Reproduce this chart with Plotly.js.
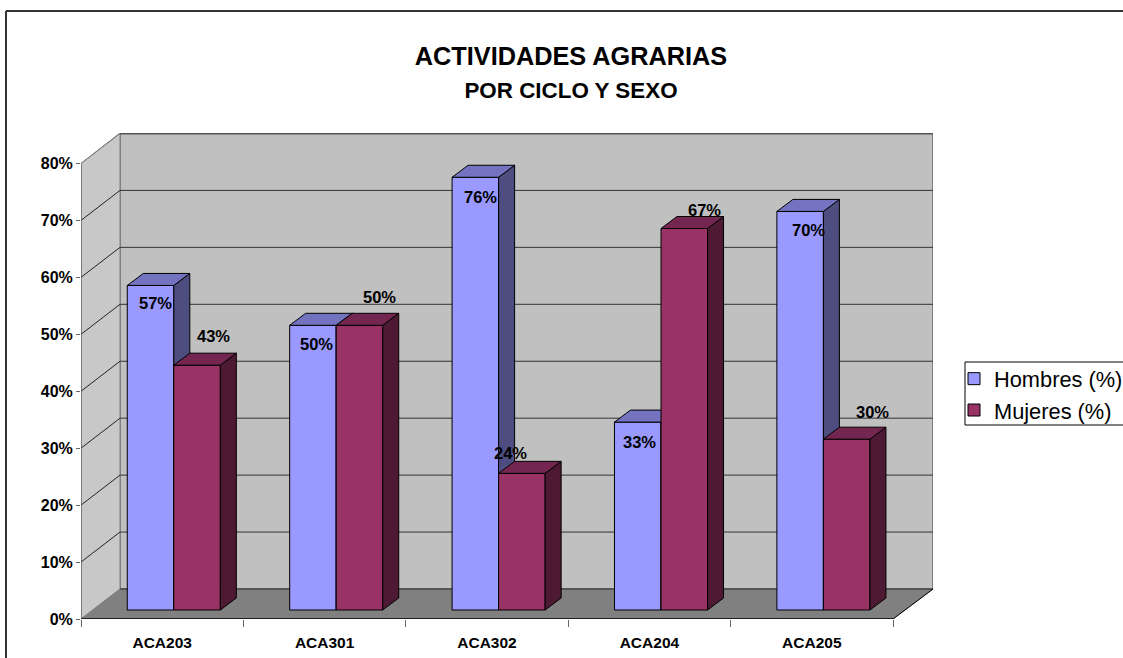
<!DOCTYPE html>
<html>
<head>
<meta charset="utf-8">
<script src="https://cdn.plot.ly/plotly-3.0.1.min.js"></script>
<style>html,body{margin:0;padding:0;background:#fff;overflow:hidden}</style>
</head>
<body>
<div id="chart" style="width:1123px;height:658px"></div>
<script>
const categories = ['ACA203', 'ACA301', 'ACA302', 'ACA204', 'ACA205'];
const hombres = [57, 50, 76, 33, 70];
const mujeres = [43, 50, 24, 67, 30];
const yTicks = [0, 10, 20, 30, 40, 50, 60, 70, 80];

// Label nudges (px) relative to the top of each bar
const hombresShiftX = [5, 4, 5, 2, 8];
const hombresShiftY = [-18, -19, -20, -20, -19];
const mujeresShiftX = [16, 20, -11, 20, 26];
const mujeresShiftY = [29, 28, 20, 19, 27];

// Geometry of the pseudo-3D box
const W = 1123, H = 658;
const L = 81, B = 619, T = 133, R = 933;
const pxCat = 162.4, pxPct = 5.694;
const xMax = (R - L) / pxCat, yMax = (B - T) / pxPct;
const wallDx = 39 / pxCat, wallDy = 30 / pxPct;
const barDx = 16 / pxCat, barDy = 12 / pxPct;
const barBase = 9 / pxPct;
const barW = 0.2865, barLeft = 0.285;
const nCat = categories.length;
const pX = v => (v - L) / (R - L);
const pY = v => (B - v) / (B - T);

const FONT = 'Liberation Sans, Arial, sans-serif';
const C = {h: '#9999FF', hs: '#4D4D80', ht: '#7373BF', m: '#993366', ms: '#4D1933', mt: '#732650'};

function polyLine(pts) { return 'M' + pts.map(p => p.join(',')).join('L') + 'Z'; }

function boxTraces(values, offset, colSide, colTop, xa, ya, group) {
  const sx = [], sy = [], tx = [], ty = [];
  values.forEach((v, i) => {
    const xl = i + barLeft + offset, xr = xl + barW, top = v + barBase;
    sx.push(xr, xr + barDx, xr + barDx, xr, xr, null);
    sy.push(barBase, barBase + barDy, top + barDy, top, barBase, null);
    tx.push(xl, xl + barDx, xr + barDx, xr, xl, null);
    ty.push(top, top + barDy, top + barDy, top, top, null);
  });
  const common = {type: 'scatter', mode: 'lines', fill: 'toself', xaxis: xa, yaxis: ya,
    showlegend: false, hoverinfo: 'skip', legendgroup: group, line: {color: '#000', width: 1}};
  return [
    Object.assign({x: sx, y: sy, fillcolor: colSide}, common),
    Object.assign({x: tx, y: ty, fillcolor: colTop}, common)
  ];
}

function barTrace(name, values, offset, color, xa, ya, group) {
  return {
    type: 'bar', name: name, legendgroup: group, xaxis: xa, yaxis: ya,
    x: values.map((_, i) => i + barLeft + offset + barW / 2),
    y: values, base: values.map(() => barBase), width: barW,
    marker: {color: color, line: {color: '#000', width: 1}},
    customdata: categories, hovertemplate: '%{customdata}: %{y}%<extra>' + name + '</extra>'
  };
}

const traces = [
  barTrace('Hombres (%)', hombres, 0, C.h, 'x', 'y', 'h'),
  ...boxTraces(hombres, 0, C.hs, C.ht, 'x', 'y', 'h'),
  barTrace('Mujeres (%)', mujeres, barW, C.m, 'x2', 'y2', 'm'),
  ...boxTraces(mujeres, barW, C.ms, C.mt, 'x2', 'y2', 'm')
];

// Walls, floor and gridlines
const shapes = [];
shapes.push({type: 'path', layer: 'below', xref: 'x', yref: 'y',
  path: polyLine([[wallDx, wallDy], [xMax, wallDy], [xMax, yMax], [wallDx, yMax]]),
  fillcolor: '#C0C0C0', line: {color: '#808080', width: 2}});
shapes.push({type: 'path', layer: 'below', xref: 'x', yref: 'y',
  path: polyLine([[0, 0], [wallDx, wallDy], [wallDx, yMax], [0, 80]]),
  fillcolor: '#C8C8C8', line: {color: '#808080', width: 1}});
shapes.push({type: 'path', layer: 'below', xref: 'x', yref: 'y',
  path: polyLine([[0, 0], [nCat, 0], [xMax, wallDy], [wallDx, wallDy]]),
  fillcolor: '#808080', line: {color: '#808080', width: 1}});
yTicks.slice(1).forEach(t => {
  shapes.push({type: 'line', layer: 'below', xref: 'x', yref: 'y', x0: wallDx, x1: xMax, y0: t + wallDy, y1: t + wallDy,
    line: {color: t === 80 ? '#555' : '#333', width: t === 80 ? 2 : 1}});
  shapes.push({type: 'line', layer: 'below', xref: 'x', yref: 'y', x0: 0, x1: wallDx, y0: t, y1: t + wallDy,
    line: {color: t === 80 ? '#777' : '#222', width: 1}});
});
// Floor edges and left axis line
shapes.push({type: 'line', layer: 'below', xref: 'x', yref: 'y', x0: wallDx, x1: xMax, y0: wallDy, y1: wallDy, line: {color: '#555', width: 2}});
shapes.push({type: 'line', layer: 'below', xref: 'x', yref: 'y', x0: 0, x1: nCat, y0: 0, y1: 0, line: {color: '#000', width: 1.5}});
shapes.push({type: 'line', layer: 'below', xref: 'x', yref: 'y', x0: nCat, x1: xMax, y0: 0, y1: wallDy, line: {color: '#000', width: 1}});
shapes.push({type: 'line', layer: 'below', xref: 'x', yref: 'y', x0: 0, x1: 0, y0: 0, y1: 80, line: {color: '#555', width: 1}});
// Outer chart frame
shapes.push({type: 'line', xref: 'paper', yref: 'paper', x0: pX(6), x1: pX(W), y0: pY(11), y1: pY(11), line: {color: '#333', width: 2}});
shapes.push({type: 'line', xref: 'paper', yref: 'paper', x0: pX(6), x1: pX(6), y0: pY(11), y1: pY(H), line: {color: '#333', width: 2}});
// Legend frame
shapes.push({type: 'rect', layer: 'below', xref: 'paper', yref: 'paper', x0: pX(965), x1: pX(W + 5), y0: pY(362), y1: pY(425),
  fillcolor: '#fff', line: {color: '#000', width: 1}});

function labels(values, offset, dx, dy) {
  return values.map((v, i) => ({
    xref: 'x', yref: 'y', x: i + barLeft + offset + barW / 2, y: v + barBase,
    xshift: dx[i], yshift: dy[i], text: '<b>' + v + '%</b>', showarrow: false,
    xanchor: 'center', yanchor: 'middle',
    font: {family: FONT, size: 16.5, color: '#000'}
  }));
}

const layout = {
  width: W, height: H, autosize: false,
  margin: {l: L, r: W - R, t: T, b: H - B, autoexpand: false},
  paper_bgcolor: '#fff', plot_bgcolor: 'rgba(0,0,0,0)',
  barmode: 'overlay',
  font: {family: FONT, color: '#000'},
  title: {
    text: '<b>ACTIVIDADES AGRARIAS</b><br><b><span style="font-size:22.4px">POR CICLO Y SEXO</span></b>',
    font: {family: FONT, size: 25.3, color: '#000'},
    x: 571 / W, xanchor: 'center', xref: 'container',
    y: 1 - 65 / H, yanchor: 'top', yref: 'container'
  },
  xaxis: {
    range: [0, xMax], showgrid: false, zeroline: false, showline: false, fixedrange: true,
    tickmode: 'array', tickvals: categories.map((_, i) => i + 0.5), ticktext: categories,
    ticks: '', ticklabelstandoff: 12,
    tickfont: {family: FONT, size: 15.5, weight: 'bold', color: '#000'},
    minor: {tick0: 0, dtick: 1, ticks: 'outside', ticklen: 7, tickwidth: 1, tickcolor: '#666', showgrid: false}
  },
  yaxis: {
    range: [0, yMax], showgrid: false, zeroline: false, showline: false, fixedrange: true,
    tickmode: 'array', tickvals: yTicks, ticktext: yTicks.map(t => t + '%'),
    ticks: 'outside', ticklen: 4, tickwidth: 1, tickcolor: '#666',
    tickfont: {family: FONT, size: 16, weight: 'bold', color: '#000'}
  },
  xaxis2: {overlaying: 'x', anchor: 'y2', range: [0, xMax], visible: false, fixedrange: true},
  yaxis2: {overlaying: 'y', anchor: 'x2', range: [0, yMax], visible: false, fixedrange: true},
  legend: {
    x: pX(954), xanchor: 'left', y: pY(358), yanchor: 'top',
    bgcolor: 'rgba(0,0,0,0)', borderwidth: 0, tracegroupgap: 0,
    traceorder: 'grouped', font: {family: FONT, size: 21.8, color: '#000'}
  },
  shapes: shapes,
  annotations: [...labels(hombres, 0, hombresShiftX, hombresShiftY), ...labels(mujeres, barW, mujeresShiftX, mujeresShiftY)]
};

Plotly.newPlot('chart', traces, layout, {displayModeBar: false, staticPlot: true});
</script>
</body>
</html>
